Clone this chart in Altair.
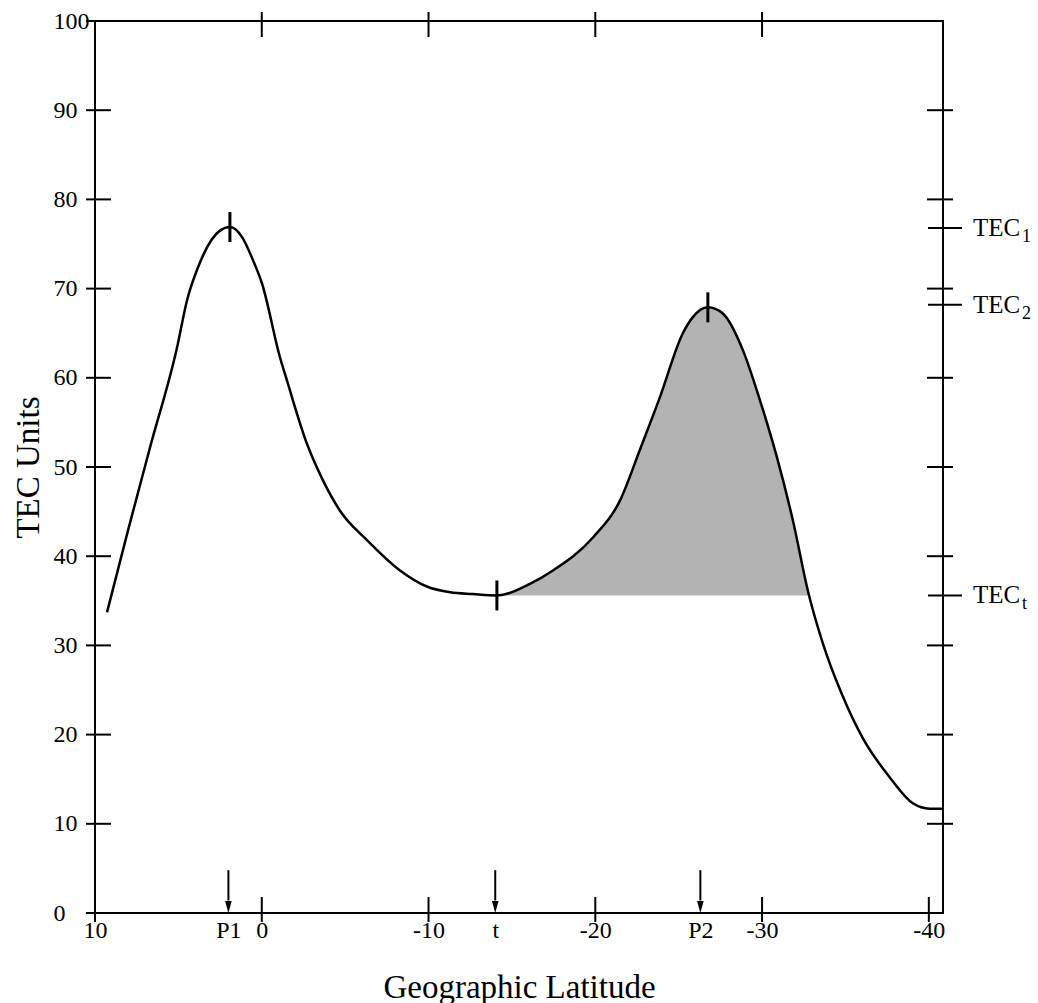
import altair as alt
import pandas as pd

# ---- data ----
curve_lat = [9.28, 8.02, 6.70, 5.08, 4.48, 3.82, 2.51, 1.91, 1.19, 0.53, -0.01, -1.09, -1.51,
             -2.71, -3.67, -4.69, -6.31, -8.29, -9.9, -11.3, -12.66, -14.1, -16.08, -17.46,
             -19.86, -21.47, -22.67, -23.87, -25.25, -25.85, -26.75, -27.65, -28.85, -29.87,
             -30.89, -31.85, -32.75, -33.65, -34.77, -36.04, -37.66, -39.04, -40.06, -40.84]
curve_tec = [33.7, 42.9, 52.2, 63.4, 68.7, 72.4, 76.5, 76.9, 75.8, 73.2, 70.6, 62.3, 59.7,
             52.6, 48.5, 45.1, 41.8, 38.4, 36.6, 35.95, 35.75, 35.6, 36.9, 38.4,
             42.1, 46.2, 51.9, 57.8, 65.0, 66.8, 67.9, 67.2, 63.1, 57.5,
             51.1, 44.0, 36.1, 30.2, 24.6, 19.6, 15.2, 12.3, 11.7, 11.7]

tec_t = 35.6
shade_start = -14.1
shade_end = -32.82

marker_lat = [1.91, -14.1, -26.75]
marker_tec = [76.9, 35.6, 67.9]

arrow_lat = [2.0, -14.0, -26.3]

x_tick_vals = [10, 2.0, 0, -10, -14.0, -20, -26.3, -30, -40]
x_tick_text = ["10", "P1", "0", "-10", "t", "-20", "P2", "-30", "-40"]
y_tick_vals = [0, 10, 20, 30, 40, 50, 60, 70, 80, 90, 100]

left_ticks_y = [0, 10, 20, 30, 40, 50, 60, 70, 80, 90, 100]
right_ticks_y = [10, 20, 30, 40, 50, 60, 70, 80, 90]
top_ticks_x = [0, -10, -20, -30]
bottom_ticks_x = [10, 0, -10, -20, -30, -40]

tec_label_vals = [76.8, 68.2, 35.6]
tec_label_main = ["TEC", "TEC", "TEC"]
tec_label_sub = ["1", "2", "t"]

W, H = 848, 892
FONT = "Liberation Serif"

# ---- tables ----
curve = pd.DataFrame({"lat": curve_lat, "tec": curve_tec})
shade_lat = [shade_start] + [a for a in curve_lat if shade_end < a < shade_start] + [shade_end]
shade_tec = [tec_t] + [t for a, t in zip(curve_lat, curve_tec) if shade_end < a < shade_start] + [tec_t]
shade = pd.DataFrame({"lat": shade_lat, "tec": shade_tec, "base": [tec_t] * len(shade_lat)})
markers = pd.DataFrame({"lat": marker_lat, "tec": marker_tec})
arrows = pd.DataFrame({"lat": arrow_lat, "top": [4.8] * 3, "bot": [1.4] * 3, "tip": [0.0] * 3})
fl = pd.DataFrame({"tec": left_ticks_y})
fr = pd.DataFrame({"tec": right_ticks_y})
ftop = pd.DataFrame({"lat": top_ticks_x})
fbot = pd.DataFrame({"lat": bottom_ticks_x})
tecl = pd.DataFrame({"tec": tec_label_vals, "main": tec_label_main, "sub": tec_label_sub})

expr = ""
for v, t in zip(x_tick_vals, x_tick_text):
    expr += f"abs(datum.value - ({v})) < 0.001 ? '{t}' : "
expr += "''"

xscale = alt.Scale(domain=[10, -40.85], nice=False, zero=False)
yscale = alt.Scale(domain=[0, 100], nice=False, zero=False)

x_axis = alt.Axis(values=x_tick_vals, labelExpr=expr, title="Geographic Latitude",
                  ticks=False, tickSize=0, domain=False, grid=False,
                  labelFont=FONT, labelFontSize=24, labelColor="black", labelPadding=5,
                  labelFlush=False, labelOverlap=False,
                  titleFont=FONT, titleFontSize=33, titleFontWeight="normal", titleColor="black",
                  titleX=424, titleY=84, titleBaseline="alphabetic", titleAlign="center")
y_axis = alt.Axis(values=y_tick_vals, title="TEC Units",
                  ticks=False, tickSize=0, domain=False, grid=False,
                  labelFont=FONT, labelFontSize=24, labelColor="black", labelPadding=42,
                  labelAlign="left", labelBaseline="middle", labelFlush=False, labelOverlap=False,
                  titleFont=FONT, titleFontSize=33, titleFontWeight="normal", titleColor="black",
                  titleX=-67, titleY=446, titleAngle=270, titleAlign="center", titleBaseline="middle")

X = alt.X("lat:Q", scale=xscale, axis=x_axis)
Y = alt.Y("tec:Q", scale=yscale, axis=y_axis)

area = alt.Chart(shade).mark_area(color="#b3b3b3", opacity=1, interpolate="monotone").encode(
    x=X, y=Y, y2="base:Q")
line = alt.Chart(curve).mark_line(color="black", strokeWidth=2.5, interpolate="monotone").encode(x=X, y=Y)
mk = alt.Chart(markers).mark_tick(orient="vertical", color="black", opacity=1, size=30,
                                  thickness=3).encode(x=X, y=Y)

arr_shaft = alt.Chart(arrows).mark_rule(color="black", strokeWidth=2).encode(
    x=X, y=alt.Y("top:Q", scale=yscale, axis=y_axis), y2="bot:Q")
arr_head = alt.Chart(arrows).mark_point(
    shape="M -0.55 -2 L 0.55 -2 L 0 0 Z", size=144, filled=True, color="black", opacity=1
).encode(x=X, y=alt.Y("tip:Q", scale=yscale, axis=y_axis))

left_ticks = alt.Chart(fl).mark_rule(color="black", strokeWidth=2).encode(
    y=Y, x=alt.value(-9), x2=alt.value(16))
right_ticks = alt.Chart(fr).mark_rule(color="black", strokeWidth=2).encode(
    y=Y, x=alt.value(W - 16), x2=alt.value(W + 10))
right_lab_ticks = alt.Chart(tecl).mark_rule(color="black", strokeWidth=2).encode(
    y=Y, x=alt.value(W - 15), x2=alt.value(W + 19))
top_ticks = alt.Chart(ftop).mark_rule(color="black", strokeWidth=2).encode(
    x=X, y=alt.value(-9), y2=alt.value(16))
bot_ticks = alt.Chart(fbot).mark_rule(color="black", strokeWidth=2).encode(
    x=X, y=alt.value(H - 16), y2=alt.value(H + 9))

tec_main = alt.Chart(tecl).mark_text(font=FONT, fontSize=25, align="left", baseline="middle",
                                     color="black").encode(
    y=Y, x=alt.value(W + 30), text="main:N")
tec_sub = alt.Chart(tecl).mark_text(font=FONT, fontSize=18, align="left", baseline="middle",
                                    color="black", dy=9).encode(
    y=Y, x=alt.value(W + 79), text="sub:N")

chart = alt.layer(area, line, mk, arr_shaft, arr_head, left_ticks, right_ticks, right_lab_ticks,
                  top_ticks, bot_ticks, tec_main, tec_sub).properties(
    width=W, height=H,
    padding={"left": 95, "top": 21, "right": 95, "bottom": 90},
    autosize=alt.AutoSizeParams(type="none"),
    background="white",
).configure_view(stroke="black", strokeWidth=2)

chart.save("out.html", embed_options={"renderer": "svg", "actions": False})
